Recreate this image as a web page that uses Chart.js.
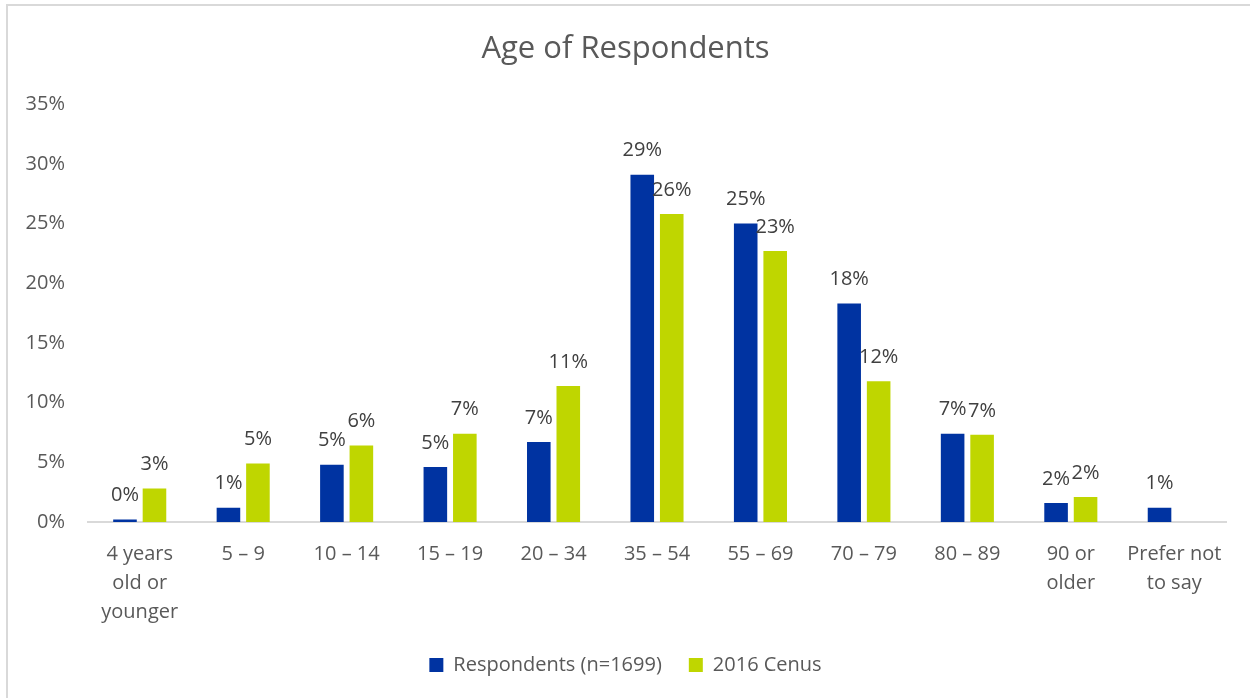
<!DOCTYPE html>
<html>
<head>
<meta charset="utf-8">
<title>Age of Respondents</title>
<script src="https://cdn.jsdelivr.net/npm/chart.js@4.4.1/dist/chart.umd.min.js"></script>
<style>
  html, body { margin: 0; padding: 0; background: #fff; }
  .wrap { position: relative; width: 1250px; height: 698px; overflow: hidden; }
  .frame {
    position: absolute; left: 6px; top: 4px; right: -10px; bottom: -10px;
    border-top: 2px solid #d9d9d9; border-left: 2px solid #d9d9d9;
  }
  canvas { position: absolute; left: 0; top: 0; }
</style>
</head>
<body>
<div class="wrap">
  <div class="frame"></div>
  <canvas id="ageChart" width="1250" height="698"></canvas>
</div>
<script>
  // Age bands (multi-line where the label wraps)
  const ageBands = [
    ['4 years', 'old or', 'younger'], '5 – 9', '10 – 14', '15 – 19', '20 – 34',
    '35 – 54', '55 – 69', '70 – 79', '80 – 89', ['90 or', 'older'], ['Prefer not', 'to say']
  ];

  // Share of each band, in percent
  const respondents = [0.2, 1.2, 4.8, 4.6, 6.7, 29.1, 25.0, 18.3, 7.4, 1.6, 1.2];
  const census2016 = [2.8, 4.9, 6.4, 7.4, 11.4, 25.8, 22.7, 11.8, 7.3, 2.1, null];

  const yTicks = [0, 5, 10, 15, 20, 25, 30, 35];

  const colors = {
    blue: '#0033A1',
    green: '#BFD600',
    axisText: '#595959',
    labelText: '#404040',
    baseline: '#d9d9d9'
  };

  const FONT = '"Open Sans", Lato, sans-serif';

  // value labels above each bar, rounded to whole percent
  const valueLabels = {
    id: 'valueLabels',
    afterDatasetsDraw(chart) {
      const ctx = chart.ctx;
      ctx.save();
      ctx.font = '20px ' + FONT;
      ctx.fillStyle = colors.labelText;
      ctx.textAlign = 'center';
      ctx.textBaseline = 'middle';
      chart.data.datasets.forEach(function (ds, i) {
        const meta = chart.getDatasetMeta(i);
        meta.data.forEach(function (bar, j) {
          const v = ds.data[j];
          if (v === null || v === undefined) return;
          ctx.fillText(Math.round(v) + '%', bar.x, bar.y - 24);
        });
      });
      ctx.restore();
    }
  };

  new Chart(document.getElementById('ageChart'), {
    type: 'bar',
    data: {
      labels: ageBands,
      datasets: [
        {
          label: 'Respondents (n=1699)',
          data: respondents,
          backgroundColor: colors.blue,
          categoryPercentage: 0.57,
          barPercentage: 0.8
        },
        {
          label: '2016 Cenus',
          data: census2016,
          backgroundColor: colors.green,
          categoryPercentage: 0.57,
          barPercentage: 0.8
        }
      ]
    },
    options: {
      responsive: false,
      animation: false,
      layout: { padding: { top: 10, left: 25, right: 24, bottom: 13 } },
      plugins: {
        title: {
          display: true,
          text: 'Age of Respondents',
          color: colors.axisText,
          font: { family: FONT, size: 31, weight: 'normal', lineHeight: 1.2 },
          padding: { top: 21, bottom: 36 }
        },
        legend: {
          position: 'bottom',
          labels: {
            color: colors.axisText,
            font: { family: FONT, size: 20 },
            boxWidth: 14,
            boxHeight: 14,
            padding: 27
          }
        },
        tooltip: { enabled: false }
      },
      scales: {
        x: {
          grid: { display: false, drawTicks: false },
          border: { display: true, color: colors.baseline, width: 2 },
          ticks: {
            color: colors.axisText,
            font: { family: FONT, size: 20, lineHeight: 1.45 },
            padding: 18,
            maxRotation: 0,
            autoSkip: false
          },
          // fixed band under the plot; no extra side padding for the outer labels
          afterFit: function (axis) {
            axis.height = 106;
            axis.paddingLeft = 0;
            axis.paddingRight = 0;
          }
        },
        y: {
          min: 0,
          max: 35,
          grid: { display: false, drawTicks: false },
          border: { display: false },
          afterBuildTicks: function (axis) {
            axis.ticks = yTicks.map(function (v) { return { value: v }; });
          },
          afterFit: function (axis) { axis.width = 63; },
          ticks: {
            color: colors.axisText,
            font: { family: FONT, size: 20 },
            padding: 23,
            callback: function (v) { return v + '%'; }
          }
        }
      }
    },
    plugins: [valueLabels]
  });
</script>
</body>
</html>
